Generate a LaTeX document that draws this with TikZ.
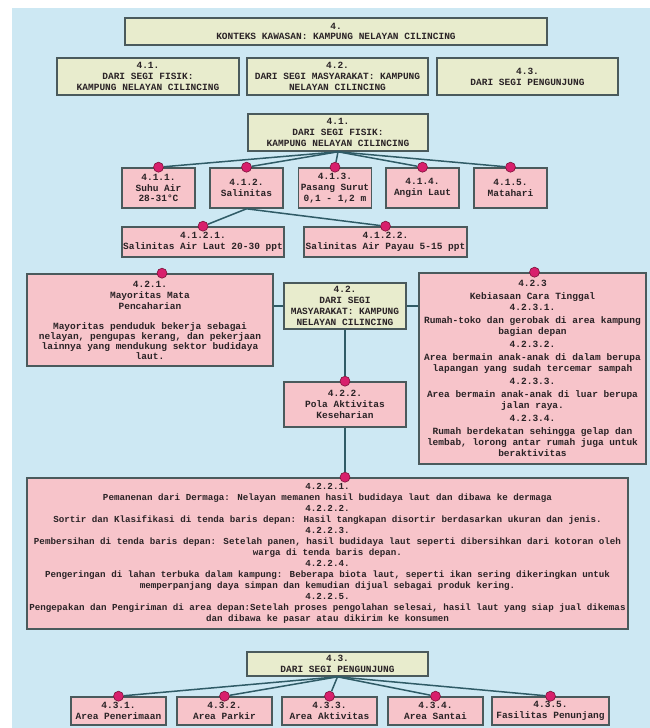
\documentclass[tikz,border=0pt]{standalone}
\usepackage{fontspec}
\newfontfamily\boxfont{Liberation Mono}
\definecolor{bgblue}{HTML}{CDE8F3}
\definecolor{beigef}{HTML}{E8ECCD}
\definecolor{pinkf}{HTML}{F7C4CA}
\definecolor{edgec}{HTML}{4A5A5C}
\definecolor{connc}{HTML}{2F5B66}
\definecolor{dotf}{HTML}{D81F6C}
\definecolor{dotd}{HTML}{7A1238}
\definecolor{txtc}{HTML}{2A2326}
\tikzset{
 box/.style={draw=edgec, line width=1.6pt, align=center, inner sep=0pt, font=\boxfont\bfseries\fontsize{9.5}{10.8}\selectfont, text=txtc},
 bbox/.style={box, fill=beigef},
 pbox/.style={box, fill=pinkf},
 conn/.style={draw=connc, line width=1.5pt},
 pdot/.style={circle, fill=dotf, draw=dotd, line width=0.6pt, minimum size=10pt, inner sep=0pt},
}
\begin{document}
\begin{tikzpicture}[x=1pt,y=-1pt]
\useasboundingbox (0,0) rectangle (650,728);
\fill[white] (0,0) rectangle (650,728);
\fill[bgblue] (12,8) rectangle (650,728);

% top
\node[bbox, minimum width=422, minimum height=27] (n4) at (336,31.5) {4.\\KONTEKS KAWASAN: KAMPUNG NELAYAN CILINCING};
\node[bbox, minimum width=182, minimum height=37] (r41) at (148,76.5) {4.1.\\DARI SEGI FISIK:\\KAMPUNG NELAYAN CILINCING};
\node[bbox, minimum width=181, minimum height=37] (r42) at (337.5,76.5) {4.2.\\DARI SEGI MASYARAKAT: KAMPUNG\\NELAYAN CILINCING};
\node[bbox, minimum width=181, minimum height=37] (r43) at (527.5,76.5) {4.3.\\DARI SEGI PENGUNJUNG};

% 4.1
\node[bbox, minimum width=180, minimum height=37] (f41) at (338,132.5) {4.1.\\DARI SEGI FISIK:\\KAMPUNG NELAYAN CILINCING};
\node[pbox, minimum width=73, minimum height=40] (f411) at (158.5,188) {4.1.1.\\Suhu Air\\28-31°C};
\node[pbox, minimum width=73, minimum height=40] (f412) at (246.5,188) {4.1.2.\\Salinitas};
\node[pbox, minimum width=73, minimum height=40] (f413) at (335,188) {4.1.3.\\Pasang Surut\\0,1 - 1,2 m};
\node[pbox, minimum width=73, minimum height=40] (f414) at (422.5,188) {4.1.4.\\Angin Laut};
\node[pbox, minimum width=73, minimum height=40] (f415) at (510.5,188) {4.1.5.\\Matahari};
\node[pbox, minimum width=162, minimum height=30] (s1) at (203,242) {4.1.2.1.\\Salinitas Air Laut 20-30 ppt};
\node[pbox, minimum width=163, minimum height=30] (s2) at (385.5,242) {4.1.2.2.\\Salinitas Air Payau 5-15 ppt};

% 4.2
\node[bbox, minimum width=122, minimum height=46] (m42) at (345,306) {4.2.\\DARI SEGI\\MASYARAKAT: KAMPUNG\\NELAYAN CILINCING};
\node[pbox, minimum width=246, minimum height=92, font=\boxfont\bfseries\fontsize{9.5}{10}\selectfont] (m421) at (150,320) {4.2.1.\\[1pt]Mayoritas Mata\\[1pt]Pencaharian\\[10pt]Mayoritas penduduk bekerja sebagai\\nelayan, pengupas kerang, dan pekerjaan\\lainnya yang mendukung sektor budidaya\\laut.};
\node[pbox, minimum width=227, minimum height=191, font=\boxfont\bfseries\fontsize{9.5}{11}\selectfont] (m423) at (532.5,368.5) {4.2.3\\[2pt]Kebiasaan Cara Tinggal\\4.2.3.1.\\[2pt]Rumah-toko dan gerobak di area kampung\\bagian depan\\[2pt]4.2.3.2.\\[2pt]Area bermain anak-anak di dalam berupa\\lapangan yang sudah tercemar sampah\\[2pt]4.2.3.3.\\[2pt]Area bermain anak-anak di luar berupa\\jalan raya.\\[2pt]4.2.3.4.\\[2pt]Rumah berdekatan sehingga gelap dan\\lembab, lorong antar rumah juga untuk\\beraktivitas};
\node[pbox, minimum width=122, minimum height=45] (m422) at (345,404.5) {4.2.2.\\Pola Aktivitas\\Keseharian};
\node[pbox, minimum width=601, minimum height=151, font=\boxfont\bfseries\fontsize{9.2}{11}\selectfont] (big) at (327.5,553.5) {4.2.2.1.\\Pemanenan dari Dermaga: Nelayan memanen hasil budidaya laut dan dibawa ke dermaga\\4.2.2.2.\\Sortir dan Klasifikasi di tenda baris depan: Hasil tangkapan disortir berdasarkan ukuran dan jenis.\\4.2.2.3.\\Pembersihan di tenda baris depan: Setelah panen, hasil budidaya laut seperti dibersihkan dari kotoran oleh\\warga di tenda baris depan.\\4.2.2.4.\\Pengeringan di lahan terbuka dalam kampung: Beberapa biota laut, seperti ikan sering dikeringkan untuk\\memperpanjang daya simpan dan kemudian dijual sebagai produk kering.\\4.2.2.5.\\Pengepakan dan Pengiriman di area depan:Setelah proses pengolahan selesai, hasil laut yang siap jual dikemas\\dan dibawa ke pasar atau dikirim ke konsumen};

% 4.3
\node[bbox, minimum width=181, minimum height=24] (p43) at (337.5,664) {4.3.\\DARI SEGI PENGUNJUNG};
\node[pbox, minimum width=95, minimum height=28] (c431) at (118.5,711) {4.3.1.\\Area Penerimaan};
\node[pbox, minimum width=95, minimum height=28] (c432) at (224.5,711) {4.3.2.\\Area Parkir};
\node[pbox, minimum width=95, minimum height=28] (c433) at (329.5,711) {4.3.3.\\Area Aktivitas};
\node[pbox, minimum width=95, minimum height=28] (c434) at (435.5,711) {4.3.4.\\Area Santai};
\node[pbox, minimum width=117, minimum height=28] (c435) at (550.5,711) {4.3.5.\\Fasilitas Penunjang};

% dots
\node[pdot] (d411) at (f411.north) {};
\node[pdot] (d412) at (f412.north) {};
\node[pdot] (d413) at (f413.north) {};
\node[pdot] (d414) at (f414.north) {};
\node[pdot] (d415) at (f415.north) {};
\node[pdot] (ds1) at (s1.north) {};
\node[pdot] (ds2) at (s2.north) {};
\node[pdot] (d421) at ([xshift=12pt]m421.north) {};
\node[pdot] (d423) at ([xshift=2pt]m423.north) {};
\node[pdot] (d422) at (m422.north) {};
\node[pdot] (dbig) at (big.north -| m422.south) {};
\node[pdot] (d431) at (c431.north) {};
\node[pdot] (d432) at (c432.north) {};
\node[pdot] (d433) at (c433.north) {};
\node[pdot] (d434) at (c434.north) {};
\node[pdot] (d435) at (c435.north) {};

% connectors
\foreach \t in {d411,d412,d413,d414,d415} \draw[conn] (f41.south) -- (\t);
\draw[conn] (f412.south) -- (ds1);
\draw[conn] (f412.south) -- (ds2);
\draw[conn] (m42.west) -- (m42.west -| m421.east);
\draw[conn] (m42.east) -- (m42.east -| m423.west);
\draw[conn] (m42.south) -- (d422);
\draw[conn] (m422.south) -- (dbig);
\foreach \t in {d431,d432,d433,d434,d435} \draw[conn] (p43.south) -- (\t);
\end{tikzpicture}
\end{document}
